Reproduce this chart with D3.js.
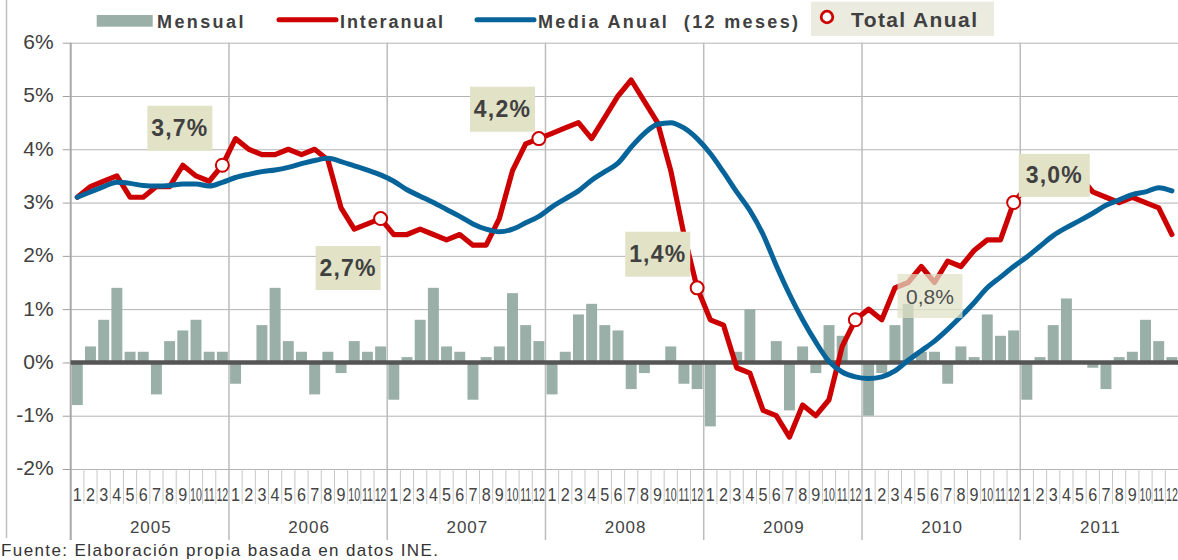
<!DOCTYPE html>
<html><head><meta charset="utf-8">
<script src="https://cdn.jsdelivr.net/npm/d3@7"></script>
<style>
body{margin:0;background:#fff;}
svg{display:block;font-family:Arial,'Liberation Sans',sans-serif;}
</style>
</head><body>
<svg id="c" width="1178" height="560"></svg>
<script>
// ---------- DATA ----------
const years = [2005, 2006, 2007, 2008, 2009, 2010, 2011];
const monthLabels = ['1','2','3','4','5','6','7','8','9','10','11','12'];
const yTicks = [-2, -1, 0, 1, 2, 3, 4, 5, 6];

const mensual = [
  -0.8, 0.3, 0.8, 1.4, 0.2, 0.2, -0.6, 0.4, 0.6, 0.8, 0.2, 0.2,
  -0.4, 0.0, 0.7, 1.4, 0.4, 0.2, -0.6, 0.2, -0.2, 0.4, 0.2, 0.3,
  -0.7, 0.1, 0.8, 1.4, 0.3, 0.2, -0.7, 0.1, 0.3, 1.3, 0.7, 0.4,
  -0.6, 0.2, 0.9, 1.1, 0.7, 0.6, -0.5, -0.2, 0.0, 0.3, -0.4, -0.5,
  -1.2, 0.0, 0.2, 1.0, 0.0, 0.4, -0.9, 0.3, -0.2, 0.7, 0.5, 0.0,
  -1.0, -0.2, 0.7, 1.1, 0.2, 0.2, -0.4, 0.3, 0.1, 0.9, 0.5, 0.6,
  -0.7, 0.1, 0.7, 1.2, 0.0, -0.1, -0.5, 0.1, 0.2, 0.8, 0.4, 0.1
];
const interanual = [
  3.1, 3.3, 3.4, 3.5, 3.1, 3.1, 3.3, 3.3, 3.7, 3.5, 3.4, 3.7,
  4.2, 4.0, 3.9, 3.9, 4.0, 3.9, 4.0, 3.8, 2.9, 2.5, 2.6, 2.7,
  2.4, 2.4, 2.5, 2.4, 2.3, 2.4, 2.2, 2.2, 2.7, 3.6, 4.1, 4.2,
  4.3, 4.4, 4.5, 4.2, 4.6, 5.0, 5.3, 4.9, 4.5, 3.6, 2.4, 1.4,
  0.8, 0.7, -0.1, -0.2, -0.9, -1.0, -1.4, -0.8, -1.0, -0.7, 0.3, 0.8,
  1.0, 0.8, 1.4, 1.5, 1.8, 1.5, 1.9, 1.8, 2.1, 2.3, 2.3, 3.0,
  3.3, 3.6, 3.6, 3.8, 3.5, 3.2, 3.1, 3.0, 3.1, 3.0, 2.9, 2.4
];
const mediaAnual = [
  3.10, 3.20, 3.30, 3.38, 3.36, 3.32, 3.31, 3.32, 3.35, 3.35, 3.31, 3.38,
  3.47, 3.53, 3.58, 3.61, 3.66, 3.73, 3.79, 3.83, 3.77, 3.69, 3.61, 3.52,
  3.40, 3.24, 3.12, 3.00, 2.87, 2.74, 2.60, 2.50, 2.45, 2.50, 2.62, 2.74,
  2.92, 3.07, 3.22, 3.42, 3.58, 3.74, 4.04, 4.30, 4.47, 4.50, 4.40, 4.20,
  3.92, 3.57, 3.20, 2.85, 2.40, 1.82, 1.28, 0.80, 0.38, 0.02, -0.18, -0.27,
  -0.30, -0.27, -0.16, 0.04, 0.22, 0.40, 0.62, 0.86, 1.12, 1.40, 1.60, 1.80,
  1.98, 2.18, 2.38, 2.53, 2.66, 2.80, 2.95, 3.05, 3.15, 3.20, 3.28, 3.22
];
const totalAnualYears = [2005, 2006, 2007, 2008, 2009, 2010];
const totalAnualLabels = ['3,7%', '2,7%', '4,2%', '1,4%', '0,8%', '3,0%'];

// ---------- LAYOUT ----------
const W = 1178, H = 560;
const X0 = 70.7, X1 = 1178.5, YTOP = 42.7, YBOT = 469;
const labelLayout = [
  {dx: -42.5, dy: -37, w: 65, h: 45, bold: true, op: 1},
  {dx: -32.5, dy: 49.5, w: 65, h: 44, bold: true, op: 1},
  {dx: -36.4, dy: -29.4, w: 65, h: 45, bold: true, op: 1},
  {dx: -39.4, dy: -33.6, w: 65, h: 45, bold: true, op: 1},
  {dx: 74.6, dy: -23.8, w: 65, h: 44, bold: false, op: 0.72},
  {dx: 40.6, dy: -27.2, w: 71, h: 43, bold: true, op: 1}
];
const C = {bar:'#9aafa8', red:'#cc0000', blue:'#07649a', text:'#404040', grid:'#b4b4b4', box:'#e1e2c6'};

const svg = d3.select('#c');
svg.append('rect').attr('width', W).attr('height', H).attr('fill', '#fff');

const n = years.length * 12;
const x = d3.scaleBand().domain(d3.range(n)).range([X0, X1]).paddingInner(0.17).paddingOuter(0.085);
const step = x.step();
const xc = i => x(i) + x.bandwidth() / 2;
const y = d3.scaleLinear().domain([-2, 6]).range([YBOT, YTOP]);

// outer border on the left
svg.append('line').attr('x1', 6.5).attr('x2', 6.5).attr('y1', 0).attr('y2', 538)
  .attr('stroke', '#c0c0c0').attr('stroke-width', 1.5);

// horizontal gridlines
svg.append('g').attr('transform', `translate(${X0},0)`)
  .call(d3.axisRight(y).tickValues(yTicks.filter(v => v !== 0)).tickSize(X1 - X0).tickFormat(''))
  .call(g => g.select('.domain').remove())
  .call(g => g.selectAll('line').attr('stroke', C.grid).attr('stroke-width', 1));

// y axis labels + outer ticks
svg.append('g').attr('transform', `translate(${X0},0)`)
  .call(d3.axisLeft(y).tickValues(yTicks).tickSize(8).tickPadding(9).tickFormat(d => d + '%'))
  .call(g => g.select('.domain').remove())
  .call(g => g.selectAll('line').attr('stroke', '#a0a0a0'))
  .call(g => g.selectAll('text').attr('fill', C.text).attr('font-size', 21).attr('dy', '0.28em'));

// year separators (plot + axis area)
const yearBounds = d3.range(years.length).map(k => X0 + k * 12 * step);
svg.append('g').selectAll('line').data(yearBounds).join('line')
  .attr('x1', d => d).attr('x2', d => d).attr('y1', YTOP).attr('y2', 540)
  .attr('stroke', (d, i) => i === 0 ? '#a8a8a8' : '#bcbcbc').attr('stroke-width', (d, i) => i === 0 ? 2 : 1.5);

// month separators
const monthBounds = d3.range(1, n).filter(m => m % 12 !== 0).map(m => X0 + m * step);
svg.append('g').selectAll('line').data(monthBounds).join('line')
  .attr('x1', d => d).attr('x2', d => d).attr('y1', YBOT).attr('y2', 504)
  .attr('stroke', '#c8c8c8').attr('stroke-width', 1);

// month labels (two-digit labels squeezed horizontally, as in the original)
svg.append('g').selectAll('text').data(d3.range(n)).join('text')
  .attr('transform', i => {
    const two = monthLabels[i % 12].length > 1;
    return `translate(${xc(i)},500.5) scale(${two ? 0.56 : 0.85},1)`;
  })
  .attr('text-anchor', 'middle')
  .attr('font-size', 19).attr('fill', '#444')
  .text(i => monthLabels[i % 12]);

// year labels
svg.append('g').selectAll('text').data(years).join('text')
  .attr('x', (d, k) => X0 + (k + 0.5) * 12 * step + 1).attr('y', 532.5).attr('text-anchor', 'middle')
  .attr('font-size', 17).attr('letter-spacing', 1).attr('fill', '#444').text(d => d);

// bars
svg.append('g').selectAll('rect').data(mensual).join('rect')
  .attr('x', (d, i) => x(i)).attr('width', x.bandwidth())
  .attr('y', d => y(Math.max(0, d))).attr('height', d => Math.abs(y(d) - y(0)))
  .attr('fill', C.bar);

// zero line
svg.append('line').attr('x1', X0).attr('x2', X1).attr('y1', y(0)).attr('y2', y(0))
  .attr('stroke', '#555').attr('stroke-width', 4.5);

// red line (interanual)
svg.append('path').datum(interanual)
  .attr('d', d3.line().x((d, i) => xc(i)).y(d => y(d)))
  .attr('fill', 'none').attr('stroke', C.red).attr('stroke-width', 5.2)
  .attr('stroke-linejoin', 'round').attr('stroke-linecap', 'round');

// blue line (media anual)
svg.append('path').datum(mediaAnual)
  .attr('d', d3.line().x((d, i) => xc(i)).y(d => y(d)).curve(d3.curveMonotoneX))
  .attr('fill', 'none').attr('stroke', C.blue).attr('stroke-width', 5)
  .attr('stroke-linejoin', 'round').attr('stroke-linecap', 'round');

// total anual markers and labels
const totals = totalAnualYears.map((yr, k) => {
  const idx = years.indexOf(yr) * 12 + 11;
  return {cx: xc(idx), cy: y(interanual[idx]), label: totalAnualLabels[k], L: labelLayout[k]};
});
svg.append('g').selectAll('circle').data(totals).join('circle')
  .attr('cx', d => d.cx).attr('cy', d => d.cy).attr('r', 6.5)
  .attr('fill', '#fff').attr('stroke', C.red).attr('stroke-width', 2);

const lab = svg.append('g').selectAll('g').data(totals).join('g')
  .attr('transform', d => `translate(${d.cx + d.L.dx},${d.cy + d.L.dy})`);
lab.append('rect').attr('x', d => -d.L.w / 2).attr('y', d => -d.L.h / 2)
  .attr('width', d => d.L.w).attr('height', d => d.L.h)
  .attr('fill', C.box).attr('fill-opacity', d => d.L.op);
lab.append('text').attr('text-anchor', 'middle').attr('y', 8)
  .attr('font-size', d => d.L.bold ? 23 : 21).attr('font-weight', d => d.L.bold ? 'bold' : 'normal')
  .attr('letter-spacing', d => d.L.bold ? 1.2 : 0)
  .attr('fill', d => d.L.bold ? C.text : '#505050').text(d => d.label);

// legend
const lg = svg.append('g').attr('font-weight', 'bold').attr('fill', C.text);
lg.append('rect').attr('x', 96.7).attr('y', 15).attr('width', 56).attr('height', 11.7).attr('fill', C.bar);
lg.append('text').attr('x', 157).attr('y', 27.5).attr('font-size', 18).attr('letter-spacing', 2.4).text('Mensual');
lg.append('line').attr('x1', 279).attr('x2', 336).attr('y1', 19.7).attr('y2', 19.7)
  .attr('stroke', C.red).attr('stroke-width', 5).attr('stroke-linecap', 'round');
lg.append('text').attr('x', 340).attr('y', 27.5).attr('font-size', 18).attr('letter-spacing', 1.9).text('Interanual');
lg.append('line').attr('x1', 477).attr('x2', 534).attr('y1', 19.7).attr('y2', 19.7)
  .attr('stroke', C.blue).attr('stroke-width', 5).attr('stroke-linecap', 'round');
lg.append('text').attr('x', 538).attr('y', 27.5).attr('font-size', 18)
  .attr('textLength', 260).attr('lengthAdjust', 'spacing')
  .style('white-space', 'pre').text('Media Anual  (12 meses)');
lg.append('rect').attr('x', 811).attr('y', 1.7).attr('width', 183).attr('height', 34.3).attr('fill', '#ebebdf');
lg.append('circle').attr('cx', 827).attr('cy', 17).attr('r', 5.8)
  .attr('fill', '#fff').attr('stroke', C.red).attr('stroke-width', 2.8);
lg.append('text').attr('x', 851).attr('y', 26.7).attr('font-size', 21).attr('letter-spacing', 1.4).text('Total Anual');

// footer
svg.append('text').attr('x', 1).attr('y', 555.7).attr('font-size', 17).attr('fill', '#333')
  .attr('textLength', 437).attr('lengthAdjust', 'spacing')
  .text('Fuente: Elaboración propia basada en datos INE.');
</script>
</body></html>
